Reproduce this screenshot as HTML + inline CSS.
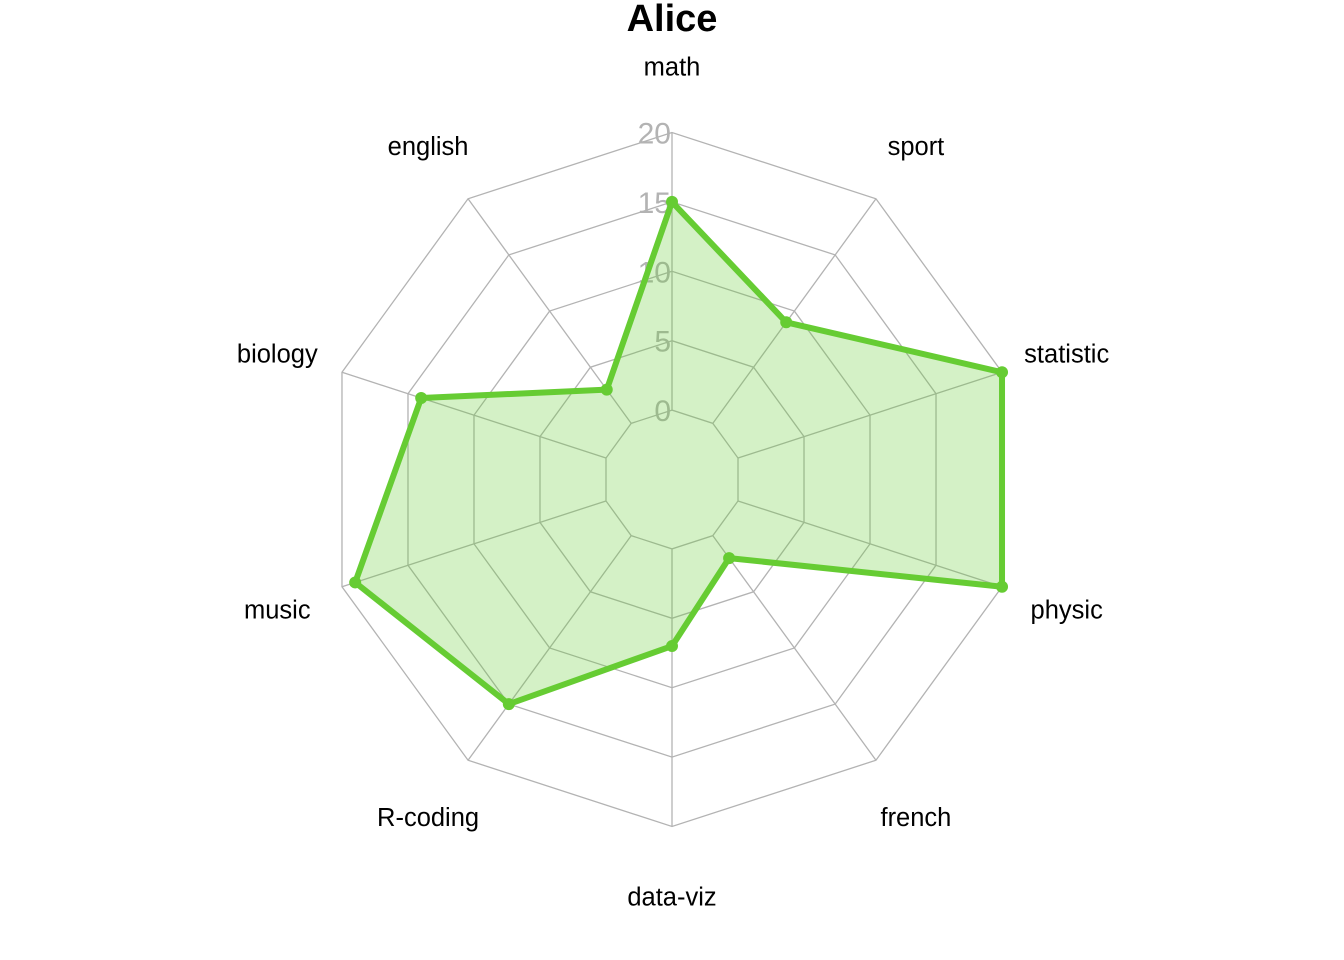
<!DOCTYPE html>
<html><head><meta charset="utf-8"><style>
html,body{margin:0;padding:0;background:#fff;}
svg{display:block;font-family:"Liberation Sans",Arial,sans-serif;}
</style></head><body>
<svg id="chart" width="1344" height="960" viewBox="0 0 1344 960">
<text x="672" y="31" text-anchor="middle" font-size="38" font-weight="bold" fill="#000">Alice</text>
<g id="grid"></g>
<g id="levels"></g>
<g id="series"></g>
<g id="labels"></g>
</svg>
<script>
const categories = ["math","english","biology","music","R-coding","data-viz","french","physic","statistic","sport"];
const values = [15,3,14,19,15,7,2,20,20,9];
const levelLabels = ["0","5","10","15","20"];
const minVal = 0, maxVal = 20;

const NS="http://www.w3.org/2000/svg";
const cx=672, cy=479.5, R=347, r0=R/5, labelR=415;
const n=categories.length;
function ang(i){return Math.PI/2 + i*2*Math.PI/n;}
function rad(v){return r0 + (v-minVal)/(maxVal-minVal)*(R-r0);}
function pt(i,r){return [cx+r*Math.cos(ang(i)), cy-r*Math.sin(ang(i))];}
function mk(tag,attrs,parent){const e=document.createElementNS(NS,tag);for(const k in attrs)e.setAttribute(k,attrs[k]);parent.appendChild(e);return e;}

const grid=document.getElementById('grid');
levelLabels.forEach((lv,j)=>{
  const r=rad(minVal+j*(maxVal-minVal)/(levelLabels.length-1));
  const pts=categories.map((c,i)=>pt(i,r).join(',')).join(' ');
  const p=mk('polygon',{points:pts,fill:'none',stroke:'#b3b3b3','stroke-width':1.3},grid);
  
  
});
categories.forEach((c,i)=>{
  const a=pt(i,r0), b=pt(i,R);
  const l=mk('line',{x1:a[0],y1:a[1],x2:b[0],y2:b[1],stroke:'#b3b3b3','stroke-width':1.3},grid);
  
  
});
const lvg=document.getElementById('levels');
levelLabels.forEach((lv,j)=>{
  const r=rad(minVal+j*(maxVal-minVal)/(levelLabels.length-1));
  const t=mk('text',{x:cx-1,y:cy-r+11,'text-anchor':'end','font-size':30,fill:'#b3b3b3'},lvg);
  t.textContent=lv;
  
  
});
const sg=document.getElementById('series');
const pts=values.map((v,i)=>pt(i,rad(v)));
const poly=mk('polygon',{points:pts.map(p=>p.join(',')).join(' '),fill:'rgba(102,204,51,0.28)',stroke:'#66cc33','stroke-width':6,'stroke-linejoin':'round'},sg);


pts.forEach((p,i)=>{
  const c=mk('circle',{cx:p[0],cy:p[1],r:6,fill:'#66cc33'},sg);
  
  
});
const lg=document.getElementById('labels');
categories.forEach((c,i)=>{
  const p=pt(i,labelR);
  const t=mk('text',{x:p[0],y:p[1]+11,'text-anchor':'middle','font-size':25.5,fill:'#000'},lg);
  t.textContent=c;
  
  
});
</script>
</body></html>
